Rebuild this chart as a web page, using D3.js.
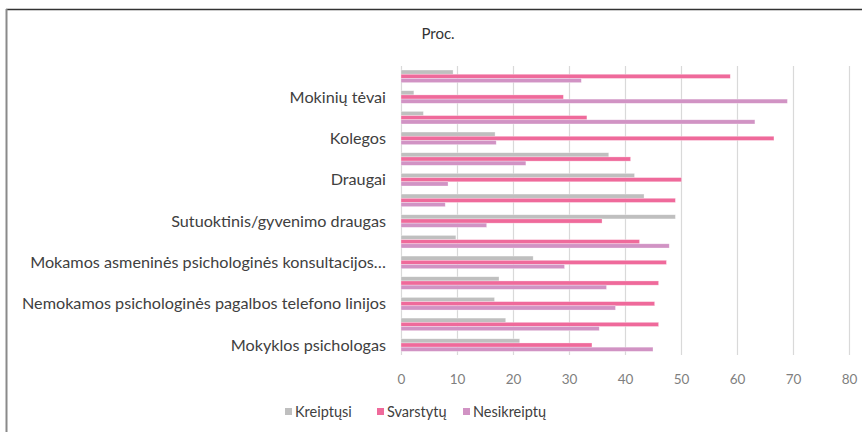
<!DOCTYPE html>
<html lang="lt">
<head>
<meta charset="utf-8">
<script src="https://d3js.org/d3.v7.min.js"></script>
<style>
  body { margin: 0; background: #fff; }
  text { font-family: Lato, "Open Sans", sans-serif; }
</style>
</head>
<body>
<svg width="862" height="432"></svg>
<script>
// categories listed top to bottom, empty ones are rows whose label is skipped
var categories = ["", "Mokinių tėvai", "", "Kolegos", "", "Draugai", "",
  "Sutuoktinis/gyvenimo draugas", "", "Mokamos asmeninės psichologinės konsultacijos…", "",
  "Nemokamos psichologinės pagalbos telefono linijos", "", "Mokyklos psichologas"];
var kreiptusi   = [9.3, 2.3, 4.0, 16.8, 37.1, 41.7, 43.4, 49.0, 9.8, 23.6, 17.5, 16.7, 18.7, 21.2];
var svarstytu   = [58.8, 29.0, 33.2, 66.6, 41.0, 50.1, 49.0, 35.9, 42.6, 47.4, 46.0, 45.3, 46.0, 34.1];
var nesikreiptu = [32.2, 69.0, 63.2, 17.0, 22.3, 8.4, 7.9, 15.3, 47.9, 29.2, 36.7, 38.3, 35.4, 45.0];
var seriesNames = ["Kreiptųsi", "Svarstytų", "Nesikreiptų"];
var xTicks = [0, 10, 20, 30, 40, 50, 60, 70, 80];

var colors = ["#bfbfbf", "#ef6a9b", "#d193c4"];
var seriesData = [kreiptusi, svarstytu, nesikreiptu];

var svg = d3.select("svg");

// frame
svg.append("line").attr("x1", 6).attr("x2", 862).attr("y1", 9.5).attr("y2", 9.5)
  .attr("stroke", "#333").attr("stroke-width", 1.5);
svg.append("line").attr("x1", 6.5).attr("x2", 6.5).attr("y1", 9).attr("y2", 432)
  .attr("stroke", "#8a8a8a").attr("stroke-width", 2);

var x = d3.scaleLinear().domain([0, 80]).range([401, 849]);
var y = d3.scaleBand().domain(d3.range(categories.length))
  .range([66, 355.4]).paddingInner(0.39).paddingOuter(0.195);
var ySub = d3.scaleBand().domain(d3.range(3)).range([0, y.bandwidth()]);

// gridlines
svg.append("g").selectAll("line").data(xTicks).enter().append("line")
  .attr("x1", d => x(d) + 0.5).attr("x2", d => x(d) + 0.5)
  .attr("y1", 66).attr("y2", 355)
  .attr("stroke", "#d9d9d9").attr("stroke-width", 1.2);

// bars
var groups = svg.append("g").selectAll("g").data(categories).enter().append("g")
  .attr("transform", (d, i) => "translate(0," + y(i) + ")");
groups.selectAll("rect")
  .data((d, i) => seriesData.map((s, k) => ({ k: k, v: s[i] })))
  .enter().append("rect")
  .attr("x", x(0))
  .attr("y", d => ySub(d.k))
  .attr("width", d => x(d.v) - x(0))
  .attr("height", ySub.bandwidth())
  .attr("fill", d => colors[d.k])
  .attr("stroke", "#fff").attr("stroke-opacity", 0.5).attr("stroke-width", 0.6);

// category labels
svg.append("g").selectAll("text").data(categories).enter().append("text")
  .attr("x", 386)
  .attr("y", (d, i) => y(i) + y.bandwidth() / 2)
  .attr("dy", "0.35em")
  .attr("text-anchor", "end")
  .attr("font-size", 16.2)
  .attr("fill", "#404040")
  .text(d => d);

// x axis
var xAxis = d3.axisBottom(x).tickValues(xTicks).tickSize(0).tickPadding(0);
var ax = svg.append("g").attr("transform", "translate(0,374)").call(xAxis);
ax.select(".domain").remove();
ax.selectAll("text").attr("font-size", 13.5).attr("fill", "#7f7f7f")
  .attr("font-family", "Lato, sans-serif");

// title
svg.append("text").attr("x", 438).attr("y", 39).attr("text-anchor", "middle")
  .attr("font-size", 15).attr("fill", "#333").text("Proc.");

// legend
var legendX = [285, 377, 463];
var lg = svg.append("g").selectAll("g").data(seriesNames).enter().append("g")
  .attr("transform", (d, i) => "translate(" + legendX[i] + ",411)");
lg.append("rect").attr("x", 0).attr("y", -3).attr("width", 7).attr("height", 7)
  .attr("fill", (d, i) => colors[i]);
lg.append("text").attr("x", 10).attr("y", 0.5).attr("dy", "0.35em")
  .attr("font-size", 14.5).attr("fill", "#404040").text(d => d);
</script>
</body>
</html>
